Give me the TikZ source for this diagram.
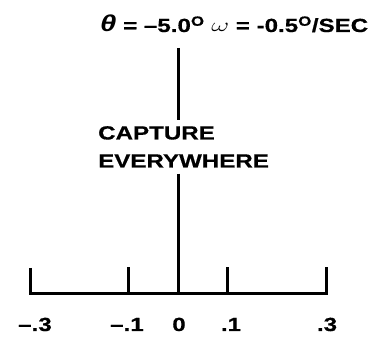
\documentclass[tikz,border=0pt]{standalone}
\usepackage{amsmath,amssymb}
\usepackage{graphicx}
\usepackage{fontspec}
\setmainfont[FakeStretch=1.27, BoldFeatures={FakeBold=0.6}]{Liberation Sans}
\usepackage{tikz}
\usetikzlibrary{positioning}

\tikzset{
  bigtext/.style={font=\fontsize{19}{28}\selectfont\bfseries, inner sep=0pt},
  axisline/.style={line width=3pt, line join=miter},
}

\begin{document}
\begin{tikzpicture}[x=1pt, y=-1pt]
  \useasboundingbox (0,0) rectangle (370,344);

  % title over the plot
  \node[bigtext, anchor=base west] (title) at (100,32)
    {{\fontsize{23}{28}\selectfont\itshape θ} = --5.0\textsuperscript{O} \scalebox{1.6}[1.1]{$\omega$} = -0.5\textsuperscript{O}/SEC};

  % the axis and its ticks
  \coordinate (zero) at (178,294);
  \coordinate (top) at (178,48);
  \coordinate (m3) at (30,294);
  \coordinate (p3) at (326,294);
  \coordinate (m3t) at (30,268);
  \coordinate (p3t) at (326,267);
  \draw[axisline] (m3t) -- (m3) -- (p3) -- (p3t);
  \foreach \x/\nm in {128/m1, 227/p1} {
    \coordinate (\nm) at (\x,294);
    \coordinate (\nm t) at (\x,267);
    \draw[axisline] (\nm) -- (\nm t);
  }
  \foreach \x/\lab/\nm in {35/--.3/lm3, 127/--.1/lm1, 179/0/lz, 231/.1/lp1, 327/.3/lp3}
    \node[bigtext, anchor=base] (\nm) at (\x,331) {\lab};

  % region label, the centre line stops round it
  \node[bigtext, align=left, anchor=north west, inner ysep=6pt] (capture) at (98,120)
    {CAPTURE\\EVERYWHERE};
  \draw[axisline] (top) -- (capture.north -| top);
  \draw[axisline] (capture.south -| top) -- (zero);
\end{tikzpicture}
\end{document}
